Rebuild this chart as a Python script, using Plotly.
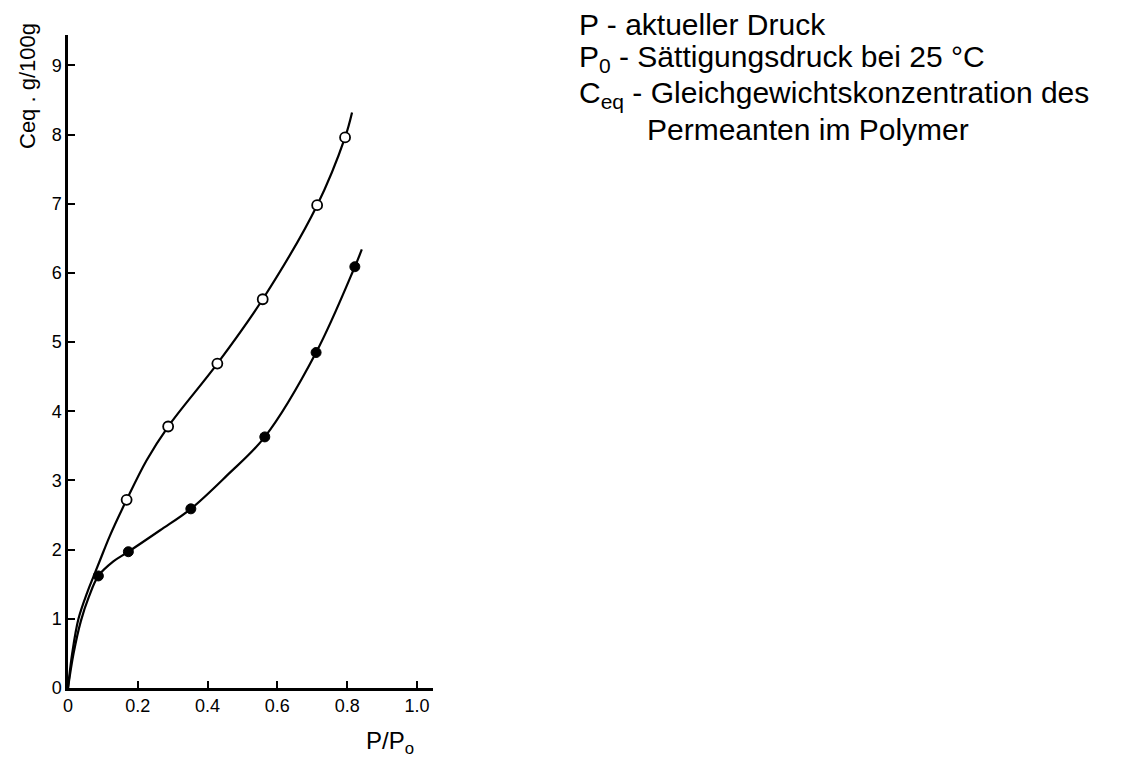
import plotly.graph_objects as go

x_open = [0.168, 0.287, 0.428, 0.558, 0.714, 0.794]
y_open = [2.72, 3.78, 4.69, 5.62, 6.98, 7.96]
x_filled = [0.087, 0.173, 0.352, 0.564, 0.711, 0.822]
y_filled = [1.62, 1.97, 2.59, 3.63, 4.85, 6.09]

# Hand-drawn curves
curve_open_x = [0.0, 0.012, 0.03, 0.055, 0.073, 0.092, 0.12, 0.168, 0.225, 0.287, 0.428, 0.558, 0.714, 0.794, 0.814]
curve_open_y = [0.0, 0.5, 1.0, 1.38, 1.61, 1.85, 2.2, 2.72, 3.29, 3.78, 4.69, 5.62, 6.98, 7.96, 8.32]
curve_filled_x = [0.0, 0.016, 0.037, 0.06, 0.087, 0.13, 0.173, 0.264, 0.352, 0.455, 0.564, 0.711, 0.822, 0.842]
curve_filled_y = [0.0, 0.5, 0.97, 1.32, 1.62, 1.83, 1.97, 2.28, 2.59, 3.07, 3.63, 4.85, 6.09, 6.34]

x_ticks = [0, 0.2, 0.4, 0.6, 0.8, 1.0]
x_ticklabels = ["0", "0.2", "0.4", "0.6", "0.8", "1.0"]
y_ticks = [0, 1, 2, 3, 4, 5, 6, 7, 8, 9]
y_ticklabels = ["0", "1", "2", "3", "4", "5", "6", "7", "8", "9"]

legend_lines = [
    "P - aktueller Druck",
    "P<sub>0</sub> - Sättigungsdruck bei 25 °C",
    "C<sub>eq</sub> - Gleichgewichtskonzentration des",
    "Permeanten im Polymer",
]

W, H = 1135, 763
L, T = 68, 35
PW, PH = 365, 653

fig = go.Figure()
for cx, cy in [(curve_open_x, curve_open_y), (curve_filled_x, curve_filled_y)]:
    fig.add_trace(go.Scatter(x=cx, y=cy, mode="lines",
                             line=dict(color="black", width=2.2, shape="spline", smoothing=1.0),
                             hoverinfo="skip", showlegend=False))
fig.add_trace(go.Scatter(x=x_open, y=y_open, mode="markers",
                         marker=dict(symbol="circle", size=10, color="white",
                                     line=dict(color="black", width=1.8)),
                         showlegend=False))
fig.add_trace(go.Scatter(x=x_filled, y=y_filled, mode="markers",
                         marker=dict(symbol="circle", size=10, color="black",
                                     line=dict(color="black", width=1)),
                         showlegend=False))

font_ax = dict(family="Liberation Sans, Arial, sans-serif", size=18, color="black")

fig.update_layout(
    width=W, height=H,
    margin=dict(l=L, r=W - L - PW, t=T, b=H - T - PH),
    paper_bgcolor="white", plot_bgcolor="white",
    xaxis=dict(range=[0, 1.046], tickvals=x_ticks, ticktext=x_ticklabels,
               showgrid=False, zeroline=False, showline=True, linecolor="black",
               linewidth=2.5, ticks="inside", ticklen=7, tickwidth=2, tickcolor="black",
               tickfont=font_ax),
    yaxis=dict(range=[0, 9.44], tickvals=y_ticks, ticktext=y_ticklabels,
               showgrid=False, zeroline=False, showline=True, linecolor="black",
               linewidth=2.5, ticks="inside", ticklen=7, tickwidth=2, tickcolor="black",
               tickfont=font_ax),
)

def px(xp):
    return (xp - L) / PW

def py(yp):
    return (T + PH - yp) / PH

fig.add_annotation(x=px(28), y=py(86), xref="paper", yref="paper",
                   text="Ceq . g/100g", textangle=-90, showarrow=False,
                   font=dict(family="Liberation Sans, Arial, sans-serif", size=22, color="black"),
                   xanchor="center", yanchor="middle")
fig.add_annotation(x=px(390), y=py(742), xref="paper", yref="paper",
                   text="P/P<sub>o</sub>", showarrow=False,
                   font=dict(family="Liberation Sans, Arial, sans-serif", size=24, color="black"),
                   xanchor="center", yanchor="middle")

leg_font = dict(family="Liberation Sans, Arial, sans-serif", size=30, color="black")
leg_pos = [(577, 25), (577, 59), (577, 94), (645, 129)]
for txt, (xp, yp) in zip(legend_lines, leg_pos):
    fig.add_annotation(x=px(xp), y=py(yp), xref="paper", yref="paper",
                       text=txt, showarrow=False, font=leg_font,
                       xanchor="left", yanchor="middle", align="left")

fig.write_html("out.html")
